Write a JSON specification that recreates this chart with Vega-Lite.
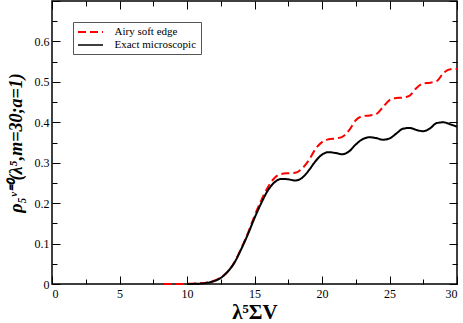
{
  "$schema": "https://vega.github.io/schema/vega-lite/v6.json",
  "width": 405,
  "height": 283,
  "autosize": {"type": "none"},
  "padding": {"left": 52, "top": 1, "right": 6, "bottom": 39},
  "config": {
    "view": {"stroke": "#000000", "strokeWidth": 1.5},
    "font": "Liberation Serif",
    "axis": {"grid": false, "domain": false, "tickColor": "#000000", "labelColor": "#000000", "titleColor": "#000000", "labelFont": "Liberation Serif", "titleFont": "Liberation Serif", "labelFontSize": 12, "tickWidth": 1},
    "legend": {"labelFont": "Liberation Serif"}
  },
  "data": {"values": [
    {"x": 8.3, "y": 0, "s": "Airy soft edge"},
    {"x": 9, "y": 0, "s": "Airy soft edge"},
    {"x": 10, "y": 0.0005, "s": "Airy soft edge"},
    {"x": 11, "y": 0.002, "s": "Airy soft edge"},
    {"x": 11.5, "y": 0.004, "s": "Airy soft edge"},
    {"x": 12, "y": 0.008, "s": "Airy soft edge"},
    {"x": 12.5, "y": 0.016, "s": "Airy soft edge"},
    {"x": 13, "y": 0.03, "s": "Airy soft edge"},
    {"x": 13.5, "y": 0.053, "s": "Airy soft edge"},
    {"x": 14, "y": 0.087, "s": "Airy soft edge"},
    {"x": 14.5, "y": 0.125, "s": "Airy soft edge"},
    {"x": 15, "y": 0.168, "s": "Airy soft edge"},
    {"x": 15.5, "y": 0.207, "s": "Airy soft edge"},
    {"x": 16, "y": 0.24, "s": "Airy soft edge"},
    {"x": 16.5, "y": 0.263, "s": "Airy soft edge"},
    {"x": 17, "y": 0.272, "s": "Airy soft edge"},
    {"x": 17.5, "y": 0.274, "s": "Airy soft edge"},
    {"x": 18, "y": 0.275, "s": "Airy soft edge"},
    {"x": 18.5, "y": 0.285, "s": "Airy soft edge"},
    {"x": 19, "y": 0.305, "s": "Airy soft edge"},
    {"x": 19.5, "y": 0.333, "s": "Airy soft edge"},
    {"x": 20, "y": 0.351, "s": "Airy soft edge"},
    {"x": 20.5, "y": 0.358, "s": "Airy soft edge"},
    {"x": 21, "y": 0.36, "s": "Airy soft edge"},
    {"x": 21.5, "y": 0.364, "s": "Airy soft edge"},
    {"x": 22, "y": 0.38, "s": "Airy soft edge"},
    {"x": 22.5, "y": 0.405, "s": "Airy soft edge"},
    {"x": 23, "y": 0.415, "s": "Airy soft edge"},
    {"x": 23.5, "y": 0.417, "s": "Airy soft edge"},
    {"x": 24, "y": 0.42, "s": "Airy soft edge"},
    {"x": 24.5, "y": 0.437, "s": "Airy soft edge"},
    {"x": 25, "y": 0.455, "s": "Airy soft edge"},
    {"x": 25.5, "y": 0.46, "s": "Airy soft edge"},
    {"x": 26, "y": 0.461, "s": "Airy soft edge"},
    {"x": 26.5, "y": 0.466, "s": "Airy soft edge"},
    {"x": 27, "y": 0.485, "s": "Airy soft edge"},
    {"x": 27.5, "y": 0.496, "s": "Airy soft edge"},
    {"x": 28, "y": 0.498, "s": "Airy soft edge"},
    {"x": 28.5, "y": 0.502, "s": "Airy soft edge"},
    {"x": 29, "y": 0.522, "s": "Airy soft edge"},
    {"x": 29.5, "y": 0.531, "s": "Airy soft edge"},
    {"x": 30, "y": 0.532, "s": "Airy soft edge"},
    {"x": 10, "y": 0, "s": "Exact microscopic"},
    {"x": 11, "y": 0.001, "s": "Exact microscopic"},
    {"x": 11.5, "y": 0.003, "s": "Exact microscopic"},
    {"x": 12, "y": 0.007, "s": "Exact microscopic"},
    {"x": 12.5, "y": 0.015, "s": "Exact microscopic"},
    {"x": 13, "y": 0.03, "s": "Exact microscopic"},
    {"x": 13.5, "y": 0.052, "s": "Exact microscopic"},
    {"x": 14, "y": 0.085, "s": "Exact microscopic"},
    {"x": 14.5, "y": 0.122, "s": "Exact microscopic"},
    {"x": 15, "y": 0.163, "s": "Exact microscopic"},
    {"x": 15.5, "y": 0.2, "s": "Exact microscopic"},
    {"x": 16, "y": 0.232, "s": "Exact microscopic"},
    {"x": 16.5, "y": 0.252, "s": "Exact microscopic"},
    {"x": 17, "y": 0.26, "s": "Exact microscopic"},
    {"x": 17.5, "y": 0.259, "s": "Exact microscopic"},
    {"x": 18, "y": 0.256, "s": "Exact microscopic"},
    {"x": 18.5, "y": 0.262, "s": "Exact microscopic"},
    {"x": 19, "y": 0.28, "s": "Exact microscopic"},
    {"x": 19.5, "y": 0.303, "s": "Exact microscopic"},
    {"x": 20, "y": 0.32, "s": "Exact microscopic"},
    {"x": 20.5, "y": 0.326, "s": "Exact microscopic"},
    {"x": 21, "y": 0.324, "s": "Exact microscopic"},
    {"x": 21.5, "y": 0.321, "s": "Exact microscopic"},
    {"x": 22, "y": 0.328, "s": "Exact microscopic"},
    {"x": 22.5, "y": 0.345, "s": "Exact microscopic"},
    {"x": 23, "y": 0.358, "s": "Exact microscopic"},
    {"x": 23.5, "y": 0.363, "s": "Exact microscopic"},
    {"x": 24, "y": 0.361, "s": "Exact microscopic"},
    {"x": 24.5, "y": 0.357, "s": "Exact microscopic"},
    {"x": 25, "y": 0.36, "s": "Exact microscopic"},
    {"x": 25.5, "y": 0.372, "s": "Exact microscopic"},
    {"x": 26, "y": 0.384, "s": "Exact microscopic"},
    {"x": 26.5, "y": 0.386, "s": "Exact microscopic"},
    {"x": 27, "y": 0.381, "s": "Exact microscopic"},
    {"x": 27.5, "y": 0.378, "s": "Exact microscopic"},
    {"x": 28, "y": 0.385, "s": "Exact microscopic"},
    {"x": 28.5, "y": 0.398, "s": "Exact microscopic"},
    {"x": 29, "y": 0.4, "s": "Exact microscopic"},
    {"x": 29.5, "y": 0.395, "s": "Exact microscopic"},
    {"x": 30, "y": 0.389, "s": "Exact microscopic"}
  ]},
  "resolve": {"axis": {"x": "independent", "y": "independent"}},
  "layer": [
    {
      "mark": {"type": "line", "interpolate": "monotone", "strokeWidth": 2},
      "encoding": {
        "x": {"field": "x", "type": "quantitative", "scale": {"domain": [0, 30], "nice": false},
          "axis": {"orient": "bottom", "values": [0, 5, 10, 15, 20, 25, 30], "tickSize": -8, "labelPadding": 12, "format": "d", "title": "λ⁵ΣV", "titleFontSize": 21, "titleFontWeight": "bold", "titlePadding": 2}},
        "y": {"field": "y", "type": "quantitative", "scale": {"domain": [0, 0.7], "nice": false},
          "axis": {"orient": "left", "values": [0, 0.1, 0.2, 0.3, 0.4, 0.5, 0.6, 0.7], "tickSize": -8, "labelPadding": 11, "labelExpr": "datum.value > 0.65 ? '' : (datum.value == 0 ? '0' : format(datum.value, '.1f'))", "title": "ρ₅ᵛ⁼⁰(λ⁵,m=30;a=1)", "titleFontSize": 18, "titleFontWeight": "bold", "titleFontStyle": "italic", "titlePadding": 9}},
        "color": {"field": "s", "type": "nominal", "scale": {"domain": ["Airy soft edge", "Exact microscopic"], "range": ["#ff0000", "#000000"]},
          "legend": {"title": null, "orient": "none", "legendX": 21, "legendY": 21, "strokeColor": "#555555", "padding": 4, "symbolType": "M-2.5,0H2.5", "symbolSize": 100, "symbolOffset": 7.5, "symbolStrokeWidth": 2, "labelFont": "Liberation Serif", "labelFontSize": 11, "labelOffset": 18, "rowPadding": 2, "labelColor": "#000000"}},
        "strokeDash": {"field": "s", "type": "nominal", "scale": {"domain": ["Airy soft edge", "Exact microscopic"], "range": [[8, 4], [1, 0]]}, "legend": null},
        "strokeWidth": {"field": "s", "type": "nominal", "scale": {"domain": ["Airy soft edge", "Exact microscopic"], "range": [2, 1.5]}, "legend": null}
      }
    },
    {
      "mark": {"type": "point", "opacity": 0},
      "encoding": {
        "x": {"field": "x", "type": "quantitative", "axis": {"orient": "bottom", "values": [2.5, 7.5, 12.5, 17.5, 22.5, 27.5], "tickSize": -5, "labels": false, "title": null}},
        "y": {"field": "y", "type": "quantitative", "axis": {"orient": "left", "values": [0.05, 0.15, 0.25, 0.35, 0.45, 0.55, 0.65], "tickSize": -5, "labels": false, "title": null}}
      }
    },
    {
      "mark": {"type": "point", "opacity": 0},
      "encoding": {
        "x": {"field": "x", "type": "quantitative", "axis": {"orient": "top", "values": [0, 5, 10, 15, 20, 25, 30], "tickSize": -8, "labels": false, "title": null}},
        "y": {"field": "y", "type": "quantitative", "axis": {"orient": "right", "values": [0, 0.1, 0.2, 0.3, 0.4, 0.5, 0.6, 0.7], "tickSize": -8, "labels": false, "title": null}}
      }
    },
    {
      "mark": {"type": "point", "opacity": 0},
      "encoding": {
        "x": {"field": "x", "type": "quantitative", "axis": {"orient": "top", "values": [2.5, 7.5, 12.5, 17.5, 22.5, 27.5], "tickSize": -5, "labels": false, "title": null}},
        "y": {"field": "y", "type": "quantitative", "axis": {"orient": "right", "values": [0.05, 0.15, 0.25, 0.35, 0.45, 0.55, 0.65], "tickSize": -5, "labels": false, "title": null}}
      }
    }
  ]
}
